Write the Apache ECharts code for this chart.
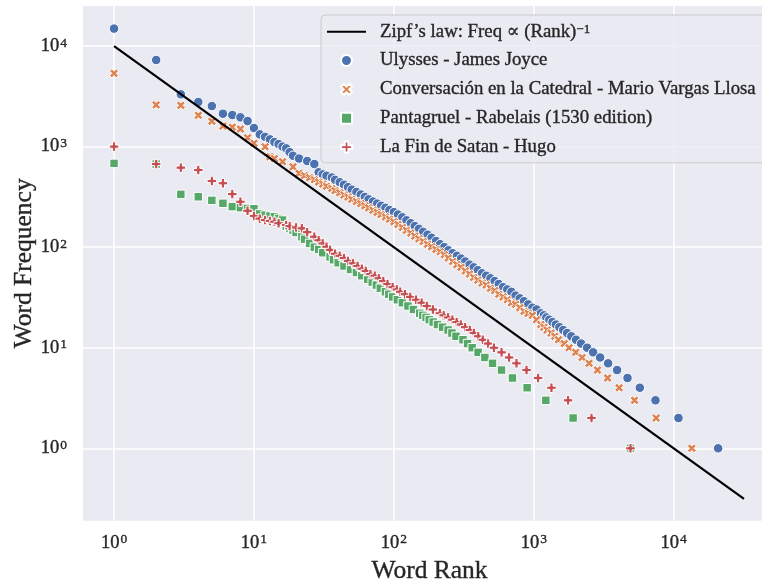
<!DOCTYPE html>
<html>
<head>
<meta charset="utf-8">
<script src="https://cdn.jsdelivr.net/npm/echarts@6/dist/echarts.min.js"></script>
<style>
  html, body { margin: 0; padding: 0; background: #ffffff; }
  #chart { width: 762px; height: 585px; }
</style>
</head>
<body>
<div id="chart"></div>
<script>
// Word rank / frequency pairs: one point per distinct frequency (last rank holding it)
const ulyssesRank = [1, 2, 3, 4, 5, 6, 7, 8, 9, 10, 11, 12, 13, 14, 15, 16, 17, 18, 19, 21, 24, 27, 29, 31, 33,
  36, 38, 41, 44, 47, 50, 54, 58, 62, 66, 71, 76, 81, 87, 93, 100, 107, 115, 123, 132, 141, 151, 162, 174, 186,
  200, 214, 229, 245, 263, 282, 302, 324, 347, 372, 398, 427, 457, 490, 525, 562, 603, 646, 692, 741, 794, 851,
  912, 977, 1047, 1122, 1180, 1230, 1291, 1361, 1439, 1524, 1622, 1730, 1854, 2004, 2178, 2404, 2655, 2978,
  3398, 3939, 4675, 5724, 7410, 10820, 20770];
const ulyssesFreq = [14900, 7260, 3310, 2775, 2530, 2122, 2060, 1954, 1795, 1530, 1324, 1250, 1180, 1110, 1060, 1000, 961, 880, 811, 760, 719, 671, 555, 530, 513,
  493, 467, 442, 418, 395, 373, 353, 334, 316, 299, 284, 271, 258, 246, 234, 223, 211, 198, 185, 173, 162, 152, 142, 133, 124,
  115, 107, 100, 93, 87, 82, 77, 72, 67, 63, 59, 55, 52, 49, 46, 43, 40, 38, 36, 33, 31, 29,
  27, 25, 24, 22, 21, 20, 19, 18, 17, 16, 15, 14, 13, 12, 11, 10, 9, 8,
  7, 6, 5, 4, 3, 2, 1];

const llosaRank = [1, 2, 3, 4, 5, 6, 7, 8, 9, 10, 12, 13, 14, 16, 19, 21, 23,
  25, 27, 29, 31, 33, 36, 38, 41, 44, 47, 50, 54, 58, 62, 66, 71, 76, 81, 87, 93, 100, 107, 115, 123, 132, 141,
  151, 162, 174, 186, 200, 214, 229, 245, 263, 282, 302, 324, 347, 372, 398, 427, 457, 490, 525, 562, 603, 646,
  692, 741, 794, 851, 912, 977, 1047, 1122, 1180, 1245, 1330, 1413, 1500, 1650, 1787, 1995, 2213, 2484, 2852,
  3367, 4074, 5248, 7485, 13460];
const llosaFreq = [5350, 2600, 2570, 2047, 1783, 1600, 1560, 1495, 1224, 1077, 997, 792, 760, 708, 630, 542, 515,
  491, 468, 445, 424, 403, 384, 365, 348, 330, 315, 299, 285, 271, 258, 246, 233, 222, 211, 200, 190, 179, 168, 157, 147, 138, 129,
  121, 114, 107, 101, 95, 90, 84, 78, 72, 67, 63, 58, 54, 50, 47, 44, 42, 39, 37, 34, 32, 30,
  28, 27, 25, 23, 22, 21, 19, 17, 16, 15, 14, 13, 12, 11, 10, 9, 8, 7, 6,
  5, 4, 3, 2, 1];

const rabelaisRank = [1, 2, 3, 4, 5, 6, 7, 8, 9, 10, 11, 12, 13, 14, 15, 16, 17, 18, 19, 20, 22, 23, 25, 27, 29, 31,
  35, 37, 40, 44, 49, 54, 59, 65, 70, 75, 80, 87, 92, 98, 106, 115, 126, 138, 153, 161, 170, 179, 191, 205, 223,
  244, 260, 278, 312, 336, 363, 400, 447, 507, 588, 704, 896, 1219, 1910, 4910];
const rabelaisFreq = [681, 670, 335, 317, 292, 273, 253, 247, 243, 241, 214, 208, 204, 201, 193, 186, 162, 155, 148, 140, 127, 120, 109, 100, 95, 88,
  80, 75, 70, 65, 60, 56, 52, 48, 45, 42, 39, 36, 34, 32, 30, 28, 26, 24, 22, 21, 20, 19, 18, 17, 16,
  15, 14, 13, 12, 11, 10, 9, 8, 7, 6, 5, 4, 3, 2, 1];

const hugoRank = [1, 2, 3, 4, 5, 6, 7, 8, 9, 10, 11, 12, 13, 14, 15, 17, 18, 20, 22, 24, 27, 29, 31, 33, 35,
  38, 41, 44, 47, 51, 55, 59, 63, 68, 73, 78, 84, 90, 98, 105, 111, 120, 131, 144, 158, 172, 190, 213, 227,
  244, 262, 281, 301, 323, 349, 373, 401, 432, 472, 519, 588, 666, 752, 887, 1073, 1337, 1758, 2585, 4910];
const hugoFreq = [1000, 671, 617, 585, 455, 432, 337, 283, 230, 204, 192, 186, 182, 179, 173, 166, 162, 157, 154, 141, 127, 117, 109, 101, 94,
  86, 82, 78, 73, 69, 65, 61, 58, 54, 52, 49, 46, 43, 40, 38, 36, 34, 32, 30, 28, 26, 24, 22, 21,
  20, 19, 18, 17, 16, 15, 14, 13, 12, 11, 10, 9, 8, 7, 6, 5, 4, 3, 2, 1];

// Reference power law: Freq = 10^4 / Rank
const zipfRank = [1, 31800];
const zipfFreq = [10000, 0.3145];

const seriesNames = [
  'Zipf’s law: Freq ∝ (Rank)',
  'Ulysses - James Joyce',
  'Conversación en la Catedral - Mario Vargas Llosa',
  'Pantagruel - Rabelais (1530 edition)',
  'La Fin de Satan - Hugo'
];

const FONT = '"Liberation Serif", "DejaVu Serif", serif';
const INK = '#262626';
const COLORS = ['#4C72B0', '#DD8452', '#55A868', '#C44E52'];

// Filled marker outlines (x and plus shapes), plus a square
const X_PATH = 'path://M1,0L2,1L3,0L4,1L3,2L4,3L3,4L2,3L1,4L0,3L1,2L0,1Z';
const PLUS_PATH = 'path://M2,0L4,0L4,2L6,2L6,4L4,4L4,6L2,6L2,4L0,4L0,2L2,2Z';
const SQUARE_PATH = 'path://M0,0L1,0L1,1L0,1Z';

const pairs = (r, f) => r.map((x, i) => [x, f[i]]);

function scatter(name, rank, freq, color, symbol, size) {
  return {
    name: name,
    type: 'scatter',
    data: pairs(rank, freq),
    symbol: symbol,
    symbolSize: size,
    symbolKeepAspect: true,
    itemStyle: { color: color, borderColor: '#ffffff', borderWidth: 1, opacity: 1 },
    emphasis: { disabled: true },
    z: 2
  };
}

// slight outline thickens the light serif face
const textInk = { color: INK, textBorderColor: INK, textBorderWidth: 0.35 };

const powerLabel = v => '{b|10}{s|' + Math.round(Math.log10(v)) + '}';
const tickRich = {
  b: Object.assign({ fontFamily: FONT, fontSize: 18.5, lineHeight: 20 }, textInk),
  s: Object.assign({ fontFamily: FONT, fontSize: 13.5, lineHeight: 12, verticalAlign: 'top', padding: [0, 0, 0, 1] }, textInk)
};

const chart = echarts.init(document.getElementById('chart'), null, { renderer: 'canvas' });
chart.setOption({
  animation: false,
  backgroundColor: '#ffffff',
  grid: {
    left: 83, right: 0, top: 6, bottom: 64.3,
    show: true, backgroundColor: '#EAEAF2', borderWidth: 0,
    containLabel: false, outerBoundsMode: 'none'
  },
  xAxis: {
    type: 'log', logBase: 10,
    min: Math.pow(10, -0.222), max: Math.pow(10, 4.631),
    name: 'Word Rank', nameLocation: 'middle', nameGap: 38,
    nameTextStyle: Object.assign({ fontFamily: FONT, fontSize: 25.5, padding: [0, 0, 0, 14] }, textInk),
    axisLine: { show: false }, axisTick: { show: false },
    splitLine: { show: true, showMinLine: false, showMaxLine: false, lineStyle: { color: '#ffffff', width: 1.5 } },
    axisLabel: { margin: 12, showMinLabel: false, showMaxLabel: false, formatter: powerLabel, rich: tickRich }
  },
  yAxis: {
    type: 'log', logBase: 10,
    min: Math.pow(10, -0.720), max: Math.pow(10, 4.398),
    name: 'Word Frequency', nameLocation: 'middle', nameGap: 46, nameMoveOverlap: false,
    nameTextStyle: Object.assign({ fontFamily: FONT, fontSize: 25.5 }, textInk),
    axisLine: { show: false }, axisTick: { show: false },
    splitLine: { show: true, showMinLine: false, showMaxLine: false, lineStyle: { color: '#ffffff', width: 1.5 } },
    axisLabel: { margin: 16, showMinLabel: false, showMaxLabel: false, formatter: powerLabel, rich: tickRich }
  },
  legend: {
    orient: 'vertical', left: 321, top: 15,
    padding: [7, 30, 6, 5],
    itemWidth: 39, itemHeight: 11, itemGap: 9.5,
    backgroundColor: 'rgba(234,234,242,0.8)',
    borderColor: '#cccccc', borderWidth: 1, borderRadius: 4,
    selectedMode: false,
    data: [
      { name: seriesNames[0], itemStyle: { color: 'rgba(0,0,0,0)', borderWidth: 0 } },
      seriesNames[1], seriesNames[2], seriesNames[3], seriesNames[4]
    ],
    formatter: name => name === seriesNames[0] ? name + '{s|−1}' : name,
    textStyle: Object.assign({
      fontFamily: FONT, fontSize: 18.8, lineHeight: 18, padding: [0, 0, 0, 9],
      rich: { s: Object.assign({ fontFamily: FONT, fontSize: 13, lineHeight: 12, verticalAlign: 'top' }, textInk) }
    }, textInk)
  },
  series: [
    {
      name: seriesNames[0],
      type: 'line',
      data: pairs(zipfRank, zipfFreq),
      symbol: 'none',
      lineStyle: { color: '#000000', width: 2.2 },
      itemStyle: { color: '#000000' },
      emphasis: { disabled: true },
      z: 3
    },
    scatter(seriesNames[1], ulyssesRank, ulyssesFreq, COLORS[0], 'circle', 9.5),
    scatter(seriesNames[2], llosaRank, llosaFreq, COLORS[1], X_PATH, 9),
    scatter(seriesNames[3], rabelaisRank, rabelaisFreq, COLORS[2], SQUARE_PATH, 8.5),
    scatter(seriesNames[4], hugoRank, hugoFreq, COLORS[3], PLUS_PATH, 9.5)
  ]
});
</script>
</body>
</html>
